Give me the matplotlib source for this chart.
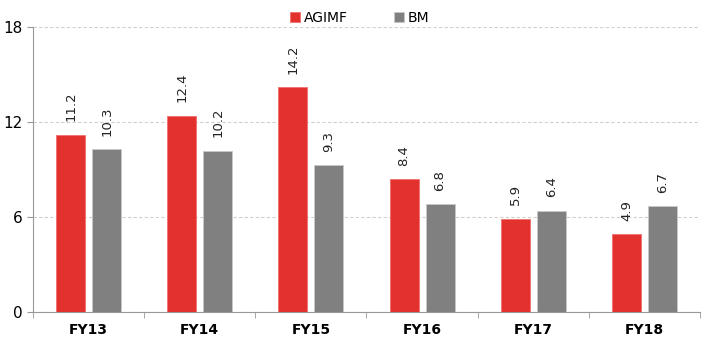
import numpy as np
import matplotlib.pyplot as plt

years = ["FY13", "FY14", "FY15", "FY16", "FY17", "FY18"]
agimf = [11.2, 12.4, 14.2, 8.4, 5.9, 4.9]
bm = [10.3, 10.2, 9.3, 6.8, 6.4, 6.7]

red = "#e3312d"
grey = "#808080"

fig = plt.figure(figsize=(7.04, 3.37), dpi=100)
ax = fig.add_axes([33/704, 25/337, 667/704, 285/337])

x = np.arange(len(years))
w = 0.26
off = 0.162
b1 = ax.bar(x - off, agimf, w, color=red, edgecolor="#f07070", linewidth=0.6, label="AGIMF", zorder=3)
b2 = ax.bar(x + off, bm, w, color=grey, edgecolor="#c8c8c8", linewidth=0.6, label="BM", zorder=3)

# rotated value labels above bars
for bars, vals in ((b1, agimf), (b2, bm)):
    for r, v in zip(bars, vals):
        ax.annotate(f"{v:.1f}", (r.get_x() + r.get_width()/2, v), xytext=(0, 9.5),
                    textcoords="offset points", rotation=90, ha="center", va="bottom",
                    fontsize=9.5, color="#222222")

ax.set_xlim(-0.5, len(years) - 0.5)
ax.set_ylim(0, 18)
ax.set_yticks([0, 6, 12, 18])
ax.yaxis.grid(True, linestyle=(0, (3, 2)), color="#d0d0d0", linewidth=0.8, zorder=0)
ax.tick_params(axis="y", length=4, color="#999999", labelsize=11)

ax.set_xticks(x)
ax.set_xticklabels(years, fontweight="bold", fontsize=10)
ax.tick_params(axis="x", length=0, pad=8)
ax.set_xticks(np.arange(len(years) + 1) - 0.5, minor=True)
ax.tick_params(axis="x", which="minor", length=4, color="#999999")

for s in ("top", "right"):
    ax.spines[s].set_visible(False)
ax.spines["left"].set_color("#999999")
ax.spines["bottom"].set_color("#999999")

ax.legend(loc="upper center", bbox_to_anchor=(0.49, 1.1), ncol=2, frameon=False,
          fontsize=10, handlelength=0.7, handleheight=0.7, handletextpad=0.3, columnspacing=3.3)

plt.savefig("out.png", dpi=100)
